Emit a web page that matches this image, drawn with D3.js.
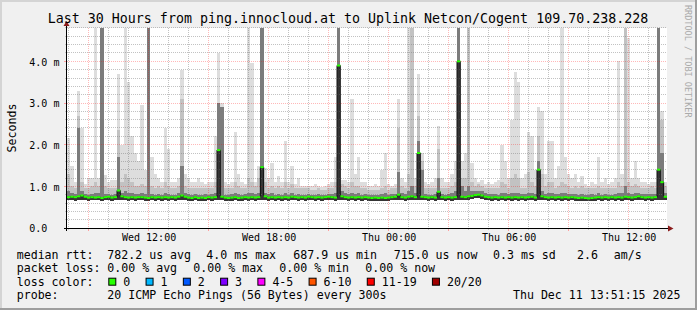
<!DOCTYPE html>
<html>
<head>
<meta charset="utf-8">
<script src="https://cdn.jsdelivr.net/npm/d3@7"></script>
<style>
body { margin: 0; background: #fff; }
svg { display: block; }
text { white-space: pre; }
</style>
</head>
<body>
<div id="chart"></div>
<script>
// ---- data (ms, one sample per 10 minutes, 30 hours) ----
const stepMinutes = 10;
const endTime = new Date(2025, 11, 11, 13, 55, 15);
const startTime = new Date(+endTime - 30 * 3600 * 1000);

const pingMin = [
  .67,.67,.66,.67,.68,.67,.66,.67,.67,.67,.66,.67,.67,.66,.67,.68,.67,.67,.66,.67,
  .66,.67,.67,.66,.66,.67,.66,.67,.66,.67,.66,.67,.66,.67,.68,.67,.66,.66,.67,.66,
  .66,.66,.67,.66,.67,.67,.67,.66,.66,.66,.67,.66,.66,.67,.66,.67,.66,.67,.67,.68,
  .66,.67,.66,.67,.66,.67,.66,.67,.67,.66,.67,.66,.67,.67,.66,.67,.66,.67,.67,.67,
  .66,.67,.68,.67,.66,.67,.66,.67,.66,.67,.66,.66,.66,.66,.66,.66,.66,.67,.67,.68,
  .67,.66,.67,.68,.67,.67,.67,.67,.66,.67,.66,.68,.67,.66,.67,.66,.67,.67,.67,.67,
  .68,.69,.71,.71,.70,.68,.67,.66,.67,.66,.67,.66,.67,.66,.67,.66,.67,.66,.67,.67,
  .66,.67,.68,.67,.66,.67,.66,.67,.66,.67,.66,.67,.66,.66,.66,.66,.65,.66,.66,.67,
  .66,.67,.66,.67,.66,.67,.66,.67,.67,.66,.67,.68,.67,.66,.67,.66,.67,.67,.67,.67
];
const pingMedian = [
  .74,.75,.74,.76,.78,.75,.73,.74,.73,.74,.72,.74,.75,.73,.74,.90,.76,.74,.73,.74,
  .73,.74,.74,.73,.72,.74,.73,.74,.73,.74,.73,.74,.73,.75,.78,.75,.73,.72,.74,.72,
  .73,.72,.74,.73,.74,1.87,.75,.73,.72,.73,.74,.72,.73,.74,.73,.74,.73,.74,1.46,.76,
  .73,.74,.73,.74,.73,.74,.73,.75,.74,.73,.74,.73,.75,.74,.73,.74,.73,.74,.75,.74,
  .73,3.90,.76,.74,.73,.74,.73,.74,.73,.74,.73,.72,.73,.72,.73,.72,.73,.74,.75,.80,
  .74,.73,.75,.76,.74,1.80,.75,.74,.73,.74,.73,.87,.74,.73,.74,.73,.74,4.00,.75,.74,
  .76,.77,.79,.80,.78,.75,.74,.73,.74,.73,.74,.73,.74,.73,.74,.73,.74,.73,.74,.75,
  .73,1.40,.76,.74,.73,.74,.73,.74,.73,.74,.73,.74,.73,.72,.73,.72,.71,.72,.73,.74,
  .73,.74,.73,.74,.73,.74,.73,.75,.74,.73,.74,.76,.74,.73,.74,.73,.74,1.40,1.10,.75
];
const pingP75 = [
  .90,.85,.82,2.40,.90,.82,.80,.82,.85,.85,5.5,.82,.82,.80,.82,1.70,.85,.90,.85,.85,
  .82,.82,.85,.82,5.5,.82,.80,.82,.80,.85,.82,.80,.80,.85,1.50,.85,.82,.80,.82,.80,
  .80,.82,.80,.82,.85,3.00,2.90,.80,.80,.82,.85,.82,.80,.82,.85,.85,.82,.85,5.5,.85,
  .82,.85,.80,.82,.80,.85,.80,.85,.80,.82,.80,.80,.82,.80,.80,.82,.80,.80,.82,.82,
  .85,5.5,.90,.85,.82,.85,.82,.85,.80,.82,.80,.80,.80,.80,.82,.85,.80,.82,.82,1.35,
  .85,.82,.90,1.00,.85,2.10,1.40,.82,.80,.80,.82,1.20,.82,.80,.82,.85,.90,5.5,1.00,.90,
  1.00,.90,.88,.90,.88,.85,.82,.82,.82,.80,.85,.85,.82,.85,.85,.85,.82,.82,.85,.85,
  .82,1.60,.90,.82,.85,.85,.82,.82,.85,.85,.82,.82,.82,.80,.82,.80,.80,.82,.80,.85,
  .80,.82,.80,.80,.82,.85,.85,1.00,.85,.82,.85,.85,.82,.82,.82,.82,.82,5.5,1.80,.85
];
const pingP90 = [
  1.30,1.00,.95,2.70,1.10,.95,.95,1.00,1.10,1.00,5.5,1.00,.95,.95,.95,2.35,1.10,1.30,1.20,1.10,
  1.00,1.00,1.05,1.00,5.5,1.00,.95,1.00,.95,1.10,1.00,.95,.95,1.00,3.10,1.00,.95,.95,.95,.95,
  .95,.95,.95,.95,1.10,3.00,2.90,.95,.95,.95,1.10,1.00,.95,.95,1.20,1.10,1.00,1.20,5.5,1.10,
  .95,1.00,.95,1.00,.95,1.10,.95,1.05,.95,.95,.95,.95,.95,.92,.92,.95,.92,.92,.95,.95,
  1.10,5.5,1.05,1.00,.95,1.10,1.00,1.00,.95,.95,.92,.92,.92,.92,.95,1.00,.92,.95,.95,2.40,
  1.00,.95,1.30,5.5,1.00,2.70,1.60,.95,.95,.95,.95,1.90,.95,.95,.95,1.00,1.10,5.5,1.20,1.20,
  5.5,1.10,1.00,1.05,1.00,.95,.95,.95,.95,.95,1.10,1.05,.95,1.20,1.30,1.20,.95,.95,1.35,1.10,
  1.00,2.20,1.30,1.00,1.10,1.10,.95,1.00,1.10,1.05,1.00,.95,1.00,.95,1.00,.95,.95,.95,.95,1.00,
  .95,.95,.95,.95,.95,1.10,1.00,5.5,1.10,1.00,1.05,1.00,.95,.95,.95,1.00,.95,5.5,2.60,1.00
];
const pingMax = [
  2.16,1.50,1.10,3.30,2.40,1.05,1.20,1.20,5.5,1.20,5.5,1.27,1.10,1.15,1.15,3.70,2.00,5.5,3.50,2.20,
  1.80,1.60,2.95,1.40,5.5,1.70,1.30,1.20,1.10,2.40,1.90,1.10,1.10,1.20,3.80,1.30,1.20,1.10,1.10,1.20,
  1.10,1.05,1.10,1.10,2.20,4.20,3.00,1.10,1.05,1.10,2.30,1.30,1.10,1.05,5.5,3.96,1.10,1.50,5.5,1.45,
  1.20,1.55,1.10,1.25,1.10,2.10,1.10,1.50,1.05,1.20,1.00,1.00,1.00,1.00,1.05,1.00,.98,1.00,1.05,1.10,
  1.70,5.5,1.15,1.15,1.10,3.10,1.30,1.70,1.10,1.10,1.00,1.00,1.05,1.00,1.40,1.80,1.05,1.00,1.05,3.10,
  1.20,1.10,5.5,5.5,1.20,3.70,1.80,1.10,1.05,1.10,1.20,2.45,1.20,1.10,1.10,1.30,1.60,5.5,1.60,1.80,
  5.5,1.55,1.20,1.10,1.15,1.05,1.10,1.05,1.10,1.15,2.00,1.60,1.20,2.60,3.75,3.50,1.20,1.30,2.30,2.20,
  1.40,2.90,2.80,1.30,2.10,2.10,1.20,1.50,5.5,1.70,1.30,1.20,1.30,1.10,1.25,1.05,1.00,1.10,1.05,1.70,
  1.10,1.20,1.05,1.10,1.20,4.00,1.30,5.5,4.55,1.20,1.60,1.20,1.10,1.10,1.05,1.10,1.10,5.5,2.80,1.10
];

const yTicks = [0, 1, 2, 3, 4];
const yTickLabels = ["0.0", "1.0 m", "2.0 m", "3.0 m", "4.0 m"];

const titleText = "Last 30 Hours from ping.innocloud.at to Uplink Netcon/Cogent 109.70.238.228";
const medianStats = ["782.2 us avg", "4.0 ms max", "687.9 us min", "715.0 us now", "0.3 ms sd", "2.6", "am/s"];
const lossStats = ["0.00 % avg", "0.00 % max", "0.00 % min", "0.00 % now"];
const lossLabels = ["0", "1", "2", "3", "4-5", "6-10", "11-19", "20/20"];
const lossColors = ["#26ff00", "#00b8ff", "#0059ff", "#7e00ff", "#ff00ff", "#ff5500", "#ff0000", "#a10000"];
const probeText = "20 ICMP Echo Pings (56 Bytes) every 300s";
const stampText = "Thu Dec 11 13:51:15 2025";

// ---- layout ----
const W = 697, H = 310;
const plotL = 67, plotR = 667, plotT = 28, plotB = 228;
const mono = "'DejaVu Sans Mono', monospace";

const x = d3.scaleTime().domain([startTime, endTime]).range([plotL, plotR]);
const y = d3.scaleLinear().domain([0, 4.8]).range([plotB, plotT]);

const svg = d3.select("#chart").append("svg")
    .attr("width", W)
    .attr("height", H)
    .attr("font-family", mono);

// background + 3d frame
svg.append("rect").attr("width", W).attr("height", H).attr("fill", "#f0f0f0");
svg.append("path").attr("d", `M0,0H${W}V2H2V${H}H0Z`).attr("fill", "#d4d4d4");
svg.append("path").attr("d", `M${W},0V${H}H0V${H - 2}H${W - 2}V0Z`).attr("fill", "#9e9e9e");
svg.append("rect").attr("x", plotL).attr("y", plotT).attr("width", plotR - plotL).attr("height", plotB - plotT).attr("fill", "#fff");

svg.append("defs").append("clipPath").attr("id", "plot")
    .append("rect").attr("x", plotL).attr("y", plotT).attr("width", plotR - plotL).attr("height", plotB - plotT);

// samples
const steps = pingMedian.map((m, i) => ({
    t: d3.timeMinute.offset(startTime, i * stepMinutes),
    t1: d3.timeMinute.offset(startTime, (i + 1) * stepMinutes),
    min: pingMin[i], med: m, p75: pingP75[i], p90: pingP90[i], max: pingMax[i]
}));
const pts = steps.concat([Object.assign({}, steps[steps.length - 1], {t: steps[steps.length - 1].t1})]);

const smoke = svg.append("g").attr("clip-path", "url(#plot)").attr("shape-rendering", "crispEdges");
const bands = [["max", "#dddddd"], ["p90", "#c2c2c2"], ["p75", "#7c7c7c"], ["med", "#353535"]];
bands.forEach(function(b) {
    const area = d3.area()
        .curve(d3.curveStepAfter)
        .x(d => x(d.t))
        .y0(d => y(d.min))
        .y1(d => y(d[b[0]]));
    smoke.append("path").datum(pts).attr("d", area).attr("fill", b[1]);
});

// grid (drawn over the smoke, like rrdtool)
const majorGrid = "rgba(255,0,0,0.28)", minorGrid = "rgba(120,120,120,0.45)";
const grid = svg.append("g").attr("fill", "none").attr("stroke-dasharray", "1,1");
const hours = d3.timeHour.range(d3.timeHour.ceil(startTime), endTime);
hours.forEach(function(h) {
    const major = h.getHours() % 3 == 0;
    const px = Math.floor(x(h)) + 0.5;
    grid.append("line")
        .attr("x1", px).attr("x2", px)
        .attr("y1", plotT).attr("y2", plotB)
        .attr("stroke", major ? majorGrid : minorGrid);
    svg.append("line")
        .attr("x1", px).attr("x2", px)
        .attr("y1", plotB).attr("y2", plotB + (major ? 3 : 2))
        .attr("stroke", major ? "#ffa0a0" : "#c4c4c4");
});
d3.range(0, 25).forEach(function(k) {
    if (k == 0) return;
    const v = k * 0.2;
    const major = k % 5 == 0;
    const py = Math.floor(y(v)) + 0.5;
    grid.append("line")
        .attr("x1", plotL).attr("x2", plotR)
        .attr("y1", py).attr("y2", py)
        .attr("stroke", major ? majorGrid : minorGrid);
    svg.append("line")
        .attr("x1", plotL - (major ? 3 : 2)).attr("x2", plotL)
        .attr("y1", py).attr("y2", py)
        .attr("stroke", major ? "#ffa0a0" : "#c4c4c4");
});

// median line: dark steps, loss-coloured flats
const medLine = d3.line().curve(d3.curveStepAfter).x(d => x(d.t)).y(d => y(d.med));
const medG = svg.append("g").attr("clip-path", "url(#plot)");
medG.append("path").datum(pts).attr("d", medLine)
    .attr("fill", "none").attr("stroke", "#111").attr("stroke-width", 1);
medG.selectAll("rect.med").data(steps).enter().append("rect")
    .attr("class", "med")
    .attr("x", d => x(d.t))
    .attr("width", d => x(d.t1) - x(d.t))
    .attr("y", d => y(d.med) - 1)
    .attr("height", 2)
    .attr("fill", lossColors[0]);

// axes
svg.append("line").attr("x1", plotL - 0.5).attr("x2", plotL - 0.5).attr("y1", plotB + 3).attr("y2", 24).attr("stroke", "#000");
svg.append("line").attr("x1", plotL - 3).attr("x2", 669).attr("y1", plotB + 0.5).attr("y2", plotB + 0.5).attr("stroke", "#000");
svg.append("path").attr("d", "M63.5,26L69.5,26L66.5,21Z").attr("fill", "#8b1c1c");
svg.append("path").attr("d", "M668,225.5L668,231.5L673.5,228.5Z").attr("fill", "#8b1c1c");

const gx = svg.append("g")
    .attr("transform", `translate(0,${plotB})`)
    .call(d3.axisBottom(x).ticks(d3.timeHour.every(6)).tickFormat(d3.timeFormat("%a %H:%M")).tickSize(0));
gx.select(".domain").remove();
gx.attr("font-family", mono).attr("font-size", 10);
gx.selectAll("text").attr("y", 13).attr("dy", null).attr("fill", "#000");

const gy = svg.append("g")
    .attr("transform", `translate(${plotL},0)`)
    .call(d3.axisLeft(y).tickValues(yTicks).tickFormat((v, i) => yTickLabels[i]).tickSize(0));
gy.select(".domain").remove();
gy.attr("font-family", mono).attr("font-size", 10);
gy.selectAll("text").attr("x", -37.7).attr("dy", "0.37em").attr("text-anchor", "start").attr("fill", "#000");

// titles
svg.append("text").attr("x", 348).attr("y", 23).attr("text-anchor", "middle")
    .attr("font-size", 13.3).attr("fill", "#000").text(titleText);
svg.append("text").attr("transform", "translate(15.5,128) rotate(-90)").attr("text-anchor", "middle")
    .attr("font-size", 11.6).attr("fill", "#000").text("Seconds");
svg.append("text").attr("transform", "translate(684.5,5) rotate(90)")
    .attr("font-size", 8.5).attr("fill", "#aaaaaa").text("RRDTOOL / TOBI OETIKER");

// legend
const lg = svg.append("g").attr("font-size", 11.6).attr("fill", "#000");
const rowY = [258.5, 272, 285.7, 299.3];
const valX = 107.3;
lg.append("text").attr("x", 16.7).attr("y", rowY[0]).text("median rtt:");
[107.3, 206.3, 293.3, 393.7, 493, 577, 613.7].forEach(function(px, i) {
    lg.append("text").attr("x", px).attr("y", rowY[0]).text(medianStats[i]);
});
lg.append("text").attr("x", 16.7).attr("y", rowY[1]).text("packet loss:");
[107.3, 193.3, 279.3, 365.3].forEach(function(px, i) {
    lg.append("text").attr("x", px).attr("y", rowY[1]).text(lossStats[i]);
});
lg.append("text").attr("x", 16.7).attr("y", rowY[2]).text("loss color:");
let lx = 108.3;
lossLabels.forEach(function(lab, i) {
    lg.append("rect").attr("x", lx + 0.5).attr("y", 278.2).attr("width", 7).attr("height", 7)
        .attr("fill", lossColors[i]).attr("stroke", "#000").attr("stroke-width", 1);
    lg.append("text").attr("x", lx + 15).attr("y", rowY[2]).text(lab);
    lx += 30.3 + 6.97 * lab.length;
});
lg.append("text").attr("x", 16.7).attr("y", rowY[3]).text("probe:");
lg.append("text").attr("x", valX).attr("y", rowY[3]).text(probeText);
lg.append("text").attr("x", 680.5).attr("y", rowY[3]).attr("text-anchor", "end").text(stampText);
</script>
</body>
</html>
